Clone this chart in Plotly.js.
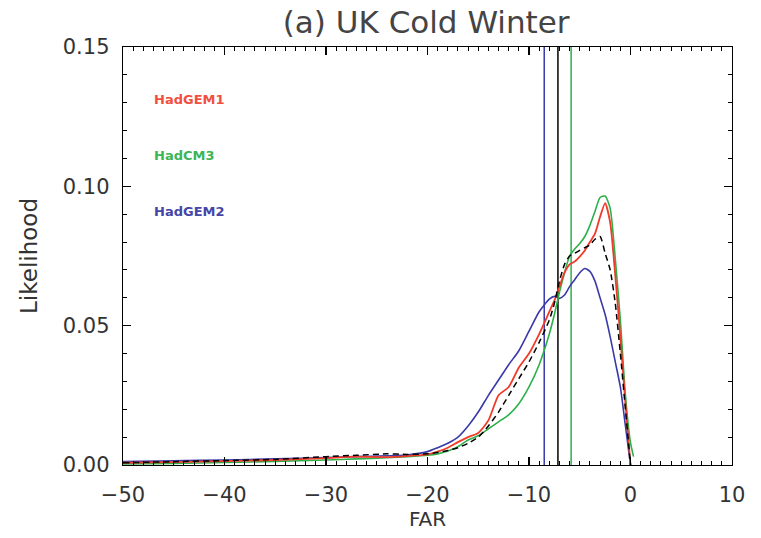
<!DOCTYPE html>
<html>
<head>
<meta charset="utf-8">
<script src="https://cdn.plot.ly/plotly-3.0.1.min.js"></script>
<style>html,body{margin:0;padding:0;background:#fff;}#chart{width:761px;height:538px;}</style>
</head>
<body>
<div id="chart"></div>
<script>
var far = [-50,-45,-40,-35,-30,-27,-24,-22,-20,-19,-18,-17,-16,-15,-14,-13,-12,-11,-10,-9,-8,-7.5,-7,-6.5,-6,-5.5,-5,-4.5,-4,-3.5,-3,-2.5,-2,-1.5,-1,-0.5,0];
var hadgem1 = [0.0008,0.001,0.0014,0.0018,0.0025,0.003,0.0028,0.0032,0.0038,0.0048,0.0062,0.0082,0.010,0.0115,0.016,0.025,0.028,0.035,0.040,0.047,0.055,0.059,0.064,0.069,0.072,0.073,0.0748,0.077,0.080,0.083,0.089,0.094,0.087,0.068,0.046,0.022,0];
var hadgem2 = [0.0012,0.0015,0.0018,0.0022,0.0027,0.0030,0.0033,0.0036,0.0048,0.0062,0.0078,0.010,0.014,0.019,0.025,0.0305,0.036,0.041,0.048,0.055,0.0595,0.0605,0.0598,0.061,0.064,0.0665,0.069,0.0705,0.0695,0.066,0.060,0.054,0.046,0.037,0.028,0.014,0];
var allModels = [0.0008,0.0012,0.0016,0.002,0.003,0.0035,0.004,0.0038,0.004,0.0045,0.0052,0.0062,0.0078,0.010,0.014,0.019,0.025,0.031,0.037,0.044,0.052,0.058,0.066,0.072,0.075,0.076,0.077,0.078,0.079,0.081,0.082,0.076,0.070,0.058,0.040,0.020,0];
var farCM3 = [-50,-45,-40,-35,-30,-27,-24,-22,-20,-19,-18,-17,-16,-15,-14,-13,-12,-11,-10,-9,-8,-7.5,-7,-6.5,-6,-5.5,-5,-4.5,-4,-3.5,-3,-2.5,-2,-1.5,-1,-0.5,0,0.3];
var hadcm3 = [0.0004,0.0006,0.0009,0.0013,0.0018,0.0022,0.0026,0.003,0.0035,0.004,0.005,0.0066,0.009,0.0105,0.013,0.0155,0.018,0.022,0.028,0.036,0.047,0.054,0.062,0.069,0.075,0.0775,0.0795,0.082,0.086,0.091,0.096,0.0965,0.092,0.074,0.052,0.025,0.008,0.003];
var vlineX = [-8.5, -7.15, -5.85];
var vlineColors = ['#3a3aa8', '#000000', '#2db04a'];
var labels = ['HadGEM1', 'HadCM3', 'HadGEM2'];
var labelY = [0.1313, 0.1112, 0.0911];
var labelColors = ['#f2503f', '#3cb556', '#4646a8'];

var traces = [];
for (var i = 0; i < vlineX.length; i++) {
  traces.push({x:[vlineX[i], vlineX[i]], y:[0, 0.15], mode:'lines', line:{color:vlineColors[i], width:1.5}, hoverinfo:'skip'});
}
traces.push({x:far, y:hadgem2, mode:'lines', line:{color:'#3a3aa8', width:1.6, shape:'spline', smoothing:0.6}});
traces.push({x:farCM3, y:hadcm3, mode:'lines', line:{color:'#2db04a', width:1.6, shape:'spline', smoothing:0.6}});
traces.push({x:far, y:hadgem1, mode:'lines', line:{color:'#f03a2a', width:1.8, shape:'spline', smoothing:0.6}});
traces.push({x:far, y:allModels, mode:'lines', line:{color:'#000000', width:1.5, dash:'6px,4px', shape:'spline', smoothing:0.6}});

var annotations = [];
for (var j = 0; j < labels.length; j++) {
  annotations.push({x:-47.1, y:labelY[j], xref:'x', yref:'y', text:'<b>' + labels[j] + '</b>', showarrow:false, xanchor:'left', yanchor:'middle', font:{family:'DejaVu Sans, sans-serif', size:13, color:labelColors[j]}});
}

var fontFam = 'DejaVu Sans, Liberation Sans, sans-serif';
var layout = {
  width:761, height:538,
  margin:{l:123, r:29, t:47, b:73, pad:0},
  paper_bgcolor:'#fff', plot_bgcolor:'#fff',
  showlegend:false,
  title:{text:'(a) UK Cold Winter', x:0.56, xanchor:'center', y:0.958, yanchor:'middle', font:{family:fontFam, size:31, color:'#444'}},
  xaxis:{range:[-50,10], dtick:10, tick0:0, ticks:'inside', ticklen:8, tickwidth:1.3, tickcolor:'#000',
    showline:true, linecolor:'#000', linewidth:1.3, mirror:'ticks', showgrid:false, zeroline:false,
    tickfont:{family:fontFam, size:21, color:'#333'}, ticklabelstandoff:10,
    minor:{dtick:1, ticks:'inside', ticklen:4, tickcolor:'#000', tickwidth:1, showgrid:false},
    title:{text:'FAR', font:{family:fontFam, size:20, color:'#333'}, standoff:6}},
  yaxis:{range:[0,0.15], dtick:0.05, tick0:0, tickformat:'.2f', ticks:'inside', ticklen:8, tickwidth:1.3, tickcolor:'#000',
    showline:true, linecolor:'#000', linewidth:1.3, mirror:'ticks', showgrid:false, zeroline:false,
    tickfont:{family:fontFam, size:21, color:'#333'}, ticklabelstandoff:8,
    minor:{dtick:0.01, ticks:'inside', ticklen:4, tickcolor:'#000', tickwidth:1, showgrid:false},
    title:{text:'Likelihood', font:{family:fontFam, size:23, color:'#333'}, standoff:18}},
  annotations:annotations
};
Plotly.newPlot('chart', traces, layout, {staticPlot:true, displayModeBar:false});
</script>
</body>
</html>
